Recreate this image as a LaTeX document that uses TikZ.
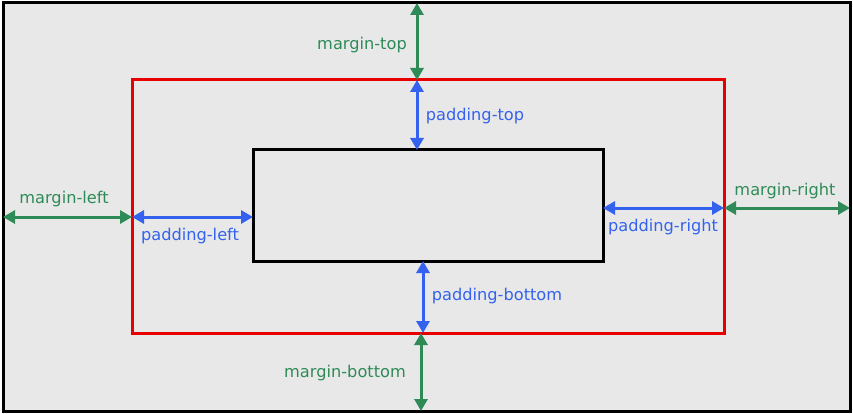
\documentclass[tikz,border=0pt]{standalone}
\usepackage{fontspec}
\setmainfont{DejaVu Sans}
\usetikzlibrary{arrows.meta}
\definecolor{mgreen}{HTML}{2E8B57}
\definecolor{pblue}{HTML}{3462EE}
\definecolor{bred}{HTML}{E80000}
\definecolor{bg}{HTML}{E8E8E8}
\begin{document}
\begin{tikzpicture}[x=1pt,y=-1pt,
  dim/.style={line width=3pt,{Triangle[length=12pt,width=13pt]}-{Triangle[length=12pt,width=13pt]}},
  mdim/.style={dim,mgreen},
  pdim/.style={dim,pblue},
  lbl/.style={inner sep=0pt,font=\fontsize{16.2}{19}\selectfont},
  mlbl/.style={lbl,text=mgreen},
  plbl/.style={lbl,text=pblue}]
\useasboundingbox (0,0) rectangle (853,414);
\fill[white] (0,0) rectangle (853,414);
\draw[line width=3pt,fill=bg] (3,3) rectangle (850,411);
\draw[line width=3pt,bred] (132,80) rectangle (724,333);
\draw[line width=3pt,black] (253,150) rectangle (603,261);
% coordinates
\coordinate (mtA) at (417,3); \coordinate (mtB) at (417,80);
\coordinate (ptA) at (417,80); \coordinate (ptB) at (417,150);
\coordinate (mlA) at (3,217); \coordinate (mlB) at (132,217);
\coordinate (plA) at (132,217); \coordinate (plB) at (253,217);
\coordinate (prA) at (603,208); \coordinate (prB) at (724,208);
\coordinate (mrA) at (724,208); \coordinate (mrB) at (850,208);
\coordinate (pbA) at (423,261); \coordinate (pbB) at (423,333);
\coordinate (mbA) at (421,333); \coordinate (mbB) at (421,411);
\draw[mdim] (mtA) -- (mtB);
\draw[pdim] (ptA) -- (ptB);
\draw[mdim] (mlA) -- (mlB);
\draw[pdim] (plA) -- (plB);
\draw[pdim] (prA) -- (prB);
\draw[mdim] (mrA) -- (mrB);
\draw[pdim] (pbA) -- (pbB);
\draw[mdim] (mbA) -- (mbB);
\node[mlbl] (tmt) at (362,45) {margin-top};
\node[plbl] (tpt) at (475,116) {padding-top};
\node[mlbl] (tml) at (64,199) {margin-left};
\node[plbl] (tpl) at (190,236) {padding-left};
\node[plbl] (tpr) at (663,227) {padding-right};
\node[mlbl] (tmr) at (785,191) {margin-right};
\node[plbl] (tpb) at (497,296) {padding-bottom};
\node[mlbl] (tmb) at (345,373) {margin-bottom};
\end{tikzpicture}
\end{document}
